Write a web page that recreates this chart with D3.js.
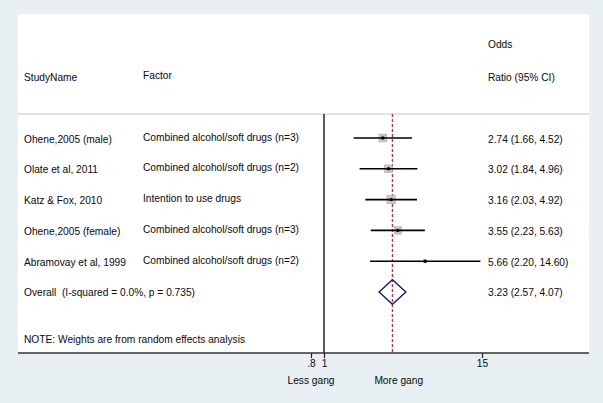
<!DOCTYPE html>
<html>
<head>
<meta charset="utf-8">
<script src="https://cdn.jsdelivr.net/npm/d3@7"></script>
<style>
  body { margin: 0; background: #e8f0f3; }
  svg { display: block; font-family: "Liberation Sans", Arial, sans-serif; }
  .lbl { font-size: 10.2px; fill: #0a0a0a; white-space: pre; }
</style>
</head>
<body>
<div class="chart"></div>
<script>
// study rows
let studies = ["Ohene,2005 (male)", "Olate et al, 2011", "Katz & Fox, 2010", "Ohene,2005 (female)", "Abramovay et al, 1999"];
let factors = ["Combined alcohol/soft drugs (n=3)", "Combined alcohol/soft drugs (n=2)", "Intention to use drugs", "Combined alcohol/soft drugs (n=3)", "Combined alcohol/soft drugs (n=2)"];
let oddsRatio = [2.74, 3.02, 3.16, 3.55, 5.66];
let lower = [1.66, 1.84, 2.03, 2.23, 2.20];
let upper = [4.52, 4.96, 4.92, 5.63, 14.60];
let weights = [24.1, 23.0, 27.4, 21.6, 3.9];
let overall = [3.23, 2.57, 4.07];
let overallLabel = "Overall  (I-squared = 0.0%, p = 0.735)";
let noteText = "NOTE: Weights are from random effects analysis";
let tickVals = [0.8, 1, 15];
let tickLabels = [".8", "1", "15"];
let favours = ["Less gang", "More gang"];
let favoursAt = [0.8, 3.6];

let width = 603, height = 403;
let panel = {left: 18, top: 14, right: 589, bottom: 353};
let sepY = 114;

let svg = d3.select(".chart")
  .append("svg")
  .attr("width", width)
  .attr("height", height);

svg.append("rect")
  .attr("x", panel.left)
  .attr("y", panel.top)
  .attr("width", panel.right - panel.left)
  .attr("height", panel.bottom - panel.top)
  .attr("fill", "#fff");

let x = d3.scaleLog().domain([0.8, 15]).range([311, 482]);
let y = d3.scaleLinear().domain([0, 5]).range([138, 292]);
let sq = d3.scaleSqrt().domain([0, 25]).range([0, 8]);

let fmt = d3.format(".2f");
let col = {study: 24, factor: 143, est: 488};

// header
svg.append("text").attr("class", "lbl").attr("x", col.est).attr("y", 44).attr("dy", "0.35em").text("Odds");
svg.append("text").attr("class", "lbl").attr("x", col.est).attr("y", 77).attr("dy", "0.35em").text("Ratio (95% CI)");
svg.append("text").attr("class", "lbl").attr("x", col.study).attr("y", 77).attr("dy", "0.35em").text("StudyName");
svg.append("text").attr("class", "lbl").attr("x", col.factor).attr("y", 75).attr("dy", "0.35em").text("Factor");

svg.append("line")
  .attr("x1", panel.left).attr("x2", panel.right)
  .attr("y1", sepY).attr("y2", sepY)
  .attr("stroke", "#c4c4c4").attr("stroke-width", 1.2);

// null line at 1
svg.append("line")
  .attr("x1", x(1)).attr("x2", x(1))
  .attr("y1", sepY).attr("y2", panel.bottom)
  .attr("stroke", "#000").attr("stroke-width", 1.3);

// overall effect line
svg.append("line")
  .attr("x1", x(overall[0])).attr("x2", x(overall[0]))
  .attr("y1", sepY).attr("y2", panel.bottom)
  .attr("stroke", "#b8333b").attr("stroke-width", 1.3)
  .attr("stroke-dasharray", "3,2");

let rows = studies.map(function(s, i) {
  return {study: s, factor: factors[i], or: oddsRatio[i], lo: lower[i], hi: upper[i], w: weights[i], i: i};
});

let g = svg.selectAll(".row")
  .data(rows)
  .enter()
  .append("g")
  .attr("class", "row");

g.append("rect")
  .attr("x", function(d) { return x(d.or) - sq(d.w) / 2; })
  .attr("y", function(d) { return y(d.i) - sq(d.w) / 2; })
  .attr("width", function(d) { return sq(d.w); })
  .attr("height", function(d) { return sq(d.w); })
  .attr("fill", "#c6c6c6")
  .attr("stroke", "#b0b0b0")
  .attr("stroke-width", 0.6);

g.append("line")
  .attr("x1", function(d) { return x(d.lo); })
  .attr("x2", function(d) { return x(d.hi); })
  .attr("y1", function(d) { return y(d.i); })
  .attr("y2", function(d) { return y(d.i); })
  .attr("stroke", "#000").attr("stroke-width", 1.6);

g.append("circle")
  .attr("cx", function(d) { return x(d.or); })
  .attr("cy", function(d) { return y(d.i); })
  .attr("r", 1.7)
  .attr("fill", "#000");

g.append("text").attr("class", "lbl")
  .attr("x", col.study).attr("y", function(d) { return y(d.i) + 1; }).attr("dy", "0.35em")
  .text(function(d) { return d.study; });
g.append("text").attr("class", "lbl")
  .attr("x", col.factor).attr("y", function(d) { return y(d.i) - 1; }).attr("dy", "0.35em")
  .text(function(d) { return d.factor; });
g.append("text").attr("class", "lbl")
  .attr("x", col.est).attr("y", function(d) { return y(d.i) + 1; }).attr("dy", "0.35em")
  .text(function(d) { return fmt(d.or) + " (" + fmt(d.lo) + ", " + fmt(d.hi) + ")"; });

// overall diamond
let oy = y(5);
let dh = 12.3;
svg.append("path")
  .attr("d", "M" + x(overall[1]) + "," + oy +
    "L" + x(overall[0]) + "," + (oy - dh) +
    "L" + x(overall[2]) + "," + oy +
    "L" + x(overall[0]) + "," + (oy + dh) + "Z")
  .attr("fill", "none")
  .attr("stroke", "#1c1c6b")
  .attr("stroke-width", 1.4);

svg.append("text").attr("class", "lbl").attr("x", col.study).attr("y", oy).attr("dy", "0.35em").text(overallLabel);
svg.append("text").attr("class", "lbl").attr("x", col.est).attr("y", oy).attr("dy", "0.35em")
  .text(fmt(overall[0]) + " (" + fmt(overall[1]) + ", " + fmt(overall[2]) + ")");

svg.append("text").attr("class", "lbl").attr("x", col.study).attr("y", 339).attr("dy", "0.35em").text(noteText);

// axis
let axis = d3.axisBottom(x)
  .tickValues(tickVals)
  .tickSize(5)
  .tickPadding(2)
  .tickFormat(function(d, i) { return tickLabels[i]; });

let ax = svg.append("g")
  .attr("transform", "translate(0," + panel.bottom + ")")
  .call(axis);
ax.select(".domain").remove();
ax.selectAll(".tick line").attr("stroke", "#222").attr("stroke-width", 1.2);
ax.selectAll(".tick text")
  .attr("font-family", "\"Liberation Sans\", Arial, sans-serif")
  .attr("font-size", "10.2px")
  .attr("fill", "#0a0a0a");

svg.append("line")
  .attr("x1", panel.left).attr("x2", panel.right)
  .attr("y1", panel.bottom).attr("y2", panel.bottom)
  .attr("stroke", "#333").attr("stroke-width", 1.4);

svg.selectAll(".fav")
  .data(favours)
  .enter()
  .append("text")
  .attr("class", "lbl fav")
  .attr("x", function(d, i) { return x(favoursAt[i]); })
  .attr("y", 380)
  .attr("dy", "0.35em")
  .attr("text-anchor", "middle")
  .text(function(d) { return d; });
</script>
</body>
</html>
